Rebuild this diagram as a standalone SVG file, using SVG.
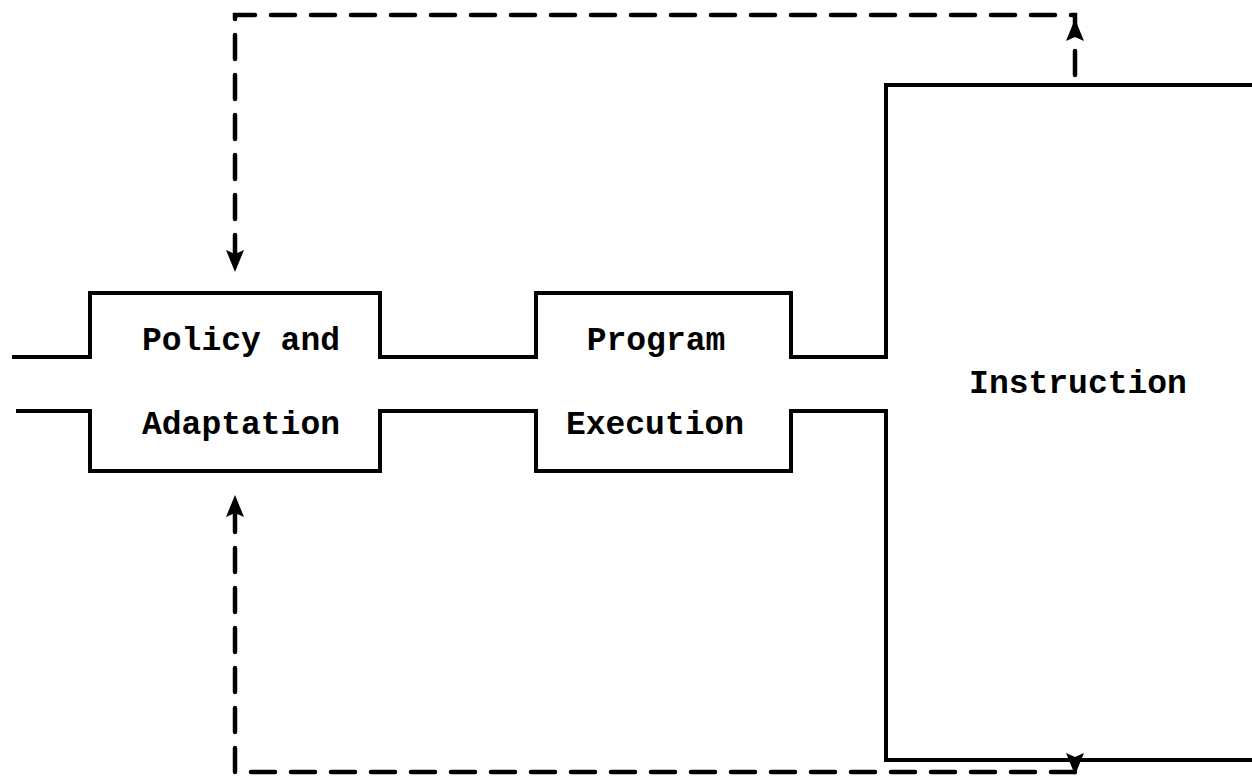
<svg xmlns="http://www.w3.org/2000/svg" width="1252" height="778" viewBox="0 0 1252 778">
<defs>
<style>
.ln{fill:none;stroke:#000;stroke-width:4;stroke-linejoin:miter;stroke-linecap:square}
.dl{fill:none;stroke:#000;stroke-width:4.5;stroke-dasharray:24 16;stroke-linecap:round}
.tx{font-family:"Liberation Mono",monospace;font-weight:bold;font-size:33px;fill:#000}
.ah{fill:#000}
</style>
</defs>
<rect width="1252" height="778" fill="#fff"/>
<g id="pipe">
<path class="ln" d="M14,357 H90 V293 H380 V357 H536 V293 H791 V357 H886 V85 H1252"/>
<path class="ln" d="M18,411 H90 V471 H380 V411 H536 V471 H791 V411 H886 V760 H1252"/>
</g>
<g id="policy">
<text class="tx" x="241" y="350" text-anchor="middle">Policy and</text>
<text class="tx" x="241" y="434" text-anchor="middle">Adaptation</text>
</g>
<g id="program">
<text class="tx" x="656" y="350" text-anchor="middle">Program</text>
<text class="tx" x="655" y="434" text-anchor="middle">Execution</text>
</g>
<g id="instruction">
<text class="tx" x="1078" y="393" text-anchor="middle">Instruction</text>
</g>
<g id="connectors">
<path class="dl" d="M1075,75 V15 H235 V262"/>
<path class="ah" d="M1075,19 L1084,41 L1075,37 L1066,41 Z"/>
<path class="ah" d="M235,272 L244,250 L235,254 L226,250 Z"/>
<path class="dl" d="M235,508 V772 H1075 V756"/>
<path class="ah" d="M235,495 L244,517 L235,513 L226,517 Z"/>
<path class="ah" d="M1075,775 L1084,753 L1075,757 L1066,753 Z"/>
</g>
</svg>
